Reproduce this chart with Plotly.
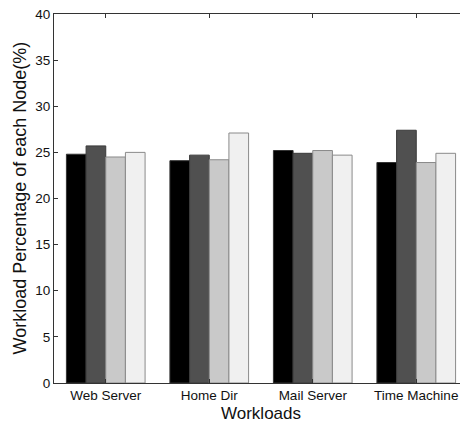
import plotly.graph_objects as go

categories = ["Web Server", "Home Dir", "Mail Server", "Time Machine"]
node1 = [24.8, 24.1, 25.2, 23.9]
node2 = [25.7, 24.7, 24.9, 27.4]
node3 = [24.5, 24.2, 25.2, 23.9]
node4 = [25.0, 27.1, 24.7, 24.9]
series = [node1, node2, node3, node4]
names = ["Node 1", "Node 2", "Node 3", "Node 4"]
colors = ["#000000", "#505050", "#c9c9c9", "#f0f0f0"]
line_colors = ["#333333", "#3a3a3a", "#8a8a8a", "#8a8a8a"]

fig = go.Figure()
for vals, nm, c, lc in zip(series, names, colors, line_colors):
    fig.add_trace(go.Bar(x=categories, y=vals, name=nm, marker_color=c,
                         marker_line_color=lc, marker_line_width=1))

font_family = "Liberation Sans, Arial, Helvetica, sans-serif"
# page body has an 8px default margin; the figure is sized to fill the rest
W, H = 460, 414
L, R, T, B = 46, 0, 6, 39
fig.update_layout(
    width=W, height=H, autosize=False,
    margin=dict(l=L, r=R, t=T, b=B, autoexpand=False),
    paper_bgcolor="white", plot_bgcolor="white",
    barmode="group", bargap=0.24, bargroupgap=0,
    showlegend=False,
    font=dict(family=font_family, color="#111111", size=13.5),
)
fig.update_xaxes(
    range=[-0.5, 3.5], showline=True, linecolor="#333333", linewidth=1.2,
    mirror="ticks", ticks="inside", ticklen=4, tickcolor="#333333",
    showgrid=False, tickfont=dict(size=13.5), automargin=False,
    ticklabeloverflow="allow",
)
fig.update_yaxes(
    range=[0, 40], dtick=5, showline=True, linecolor="#333333", linewidth=1.2,
    mirror="ticks", ticks="inside", ticklen=4, tickcolor="#333333",
    showgrid=False, zeroline=False, tickfont=dict(size=13.5), automargin=False,
    ticklabeloverflow="allow",
)
fig.add_annotation(text="Workloads", xref="paper", yref="paper", x=0.5,
                   y=-(405 - (H - B)) / (H - T - B),
                   showarrow=False, font=dict(size=17), xanchor="center", yanchor="middle")
fig.add_annotation(text="Workload Percentage of each Node(%)", xref="paper", yref="paper",
                   x=-(L - 11) / (W - L - R), y=0.5, textangle=-90,
                   showarrow=False, font=dict(size=18), xanchor="center", yanchor="middle")
fig.write_html("out.html")
